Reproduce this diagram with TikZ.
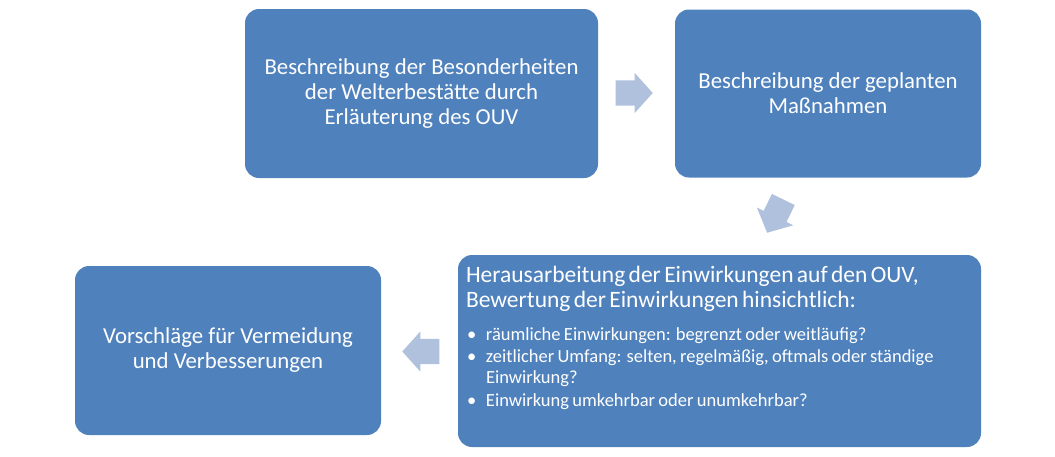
\documentclass[tikz,border=0pt]{standalone}
\usepackage{fontspec}
\setmainfont{Carlito}
\usetikzlibrary{shapes.arrows,calc}
\definecolor{boxblue}{HTML}{4F81BD}
\definecolor{arrowblue}{HTML}{B0C1DE}
\tikzset{
  stepbox/.style={fill=boxblue, rounded corners=14pt, text=white, inner sep=0pt, align=center,
    font=\fontsize{22.8}{25}\selectfont},
  fatarrow/.style={single arrow, fill=arrowblue, draw=none, inner xsep=0pt, inner ysep=12.5pt,
    minimum height=37pt, single arrow head extend=7.5pt, single arrow tip angle=96, anchor=tip}
}
\begin{document}
\begin{tikzpicture}[x=1pt,y=1pt]
      \useasboundingbox (0,0) rectangle (1055,-456);
      \node[stepbox, minimum width=353pt, minimum height=169pt]
        (1) at (421.5,-93.5) {Beschreibung der Besonderheiten\\der Welterbestätte durch\\Erläuterung des OUV};
      \node[stepbox, minimum width=306pt, minimum height=168pt]
        (2) at (828,-93.5) {Beschreibung der geplanten\\Maßnahmen};
      \node[stepbox, minimum width=523pt, minimum height=192pt]
        (3) at (719.5,-351) {};
      \node[stepbox, minimum width=306pt, minimum height=169pt]
        (4) at (228,-350.5) {Vorschläge für Vermeidung\\und Verbesserungen};
      \node[text=white, inner sep=0pt, anchor=north west, text width=505pt, align=left]
        (3t) at ($(3.north west)+(8,-11)$) {%
        \fontsize{23.5}{25}\selectfont
        Herausarbeitung der Einwirkungen auf den OUV,\\Bewertung der Einwirkungen hinsichtlich:\par
        \vspace{12pt}
        \fontsize{18.5}{21}\selectfont\leftskip=20pt
        \noindent\hspace*{-19pt}\makebox[19pt][l]{\textbullet}räumliche Einwirkungen: begrenzt oder weitläufig?\par
        \vspace{1.5pt}
        \noindent\hspace*{-19pt}\makebox[19pt][l]{\textbullet}zeitlicher Umfang: selten, regelmäßig, oftmals oder ständige\\Einwirkung?\par
        \vspace{1.5pt}
        \noindent\hspace*{-19pt}\makebox[19pt][l]{\textbullet}Einwirkung umkehrbar oder unumkehrbar?\par};
      \begin{scope}[every node/.style={fatarrow}]
        \node (12) at (653,-93) {};
        \node[rotate=244] (23) at (767,-233) {};
        \node[rotate=180] (34) at (402,-351.5) {};
      \end{scope}
    \end{tikzpicture}
\end{document}
